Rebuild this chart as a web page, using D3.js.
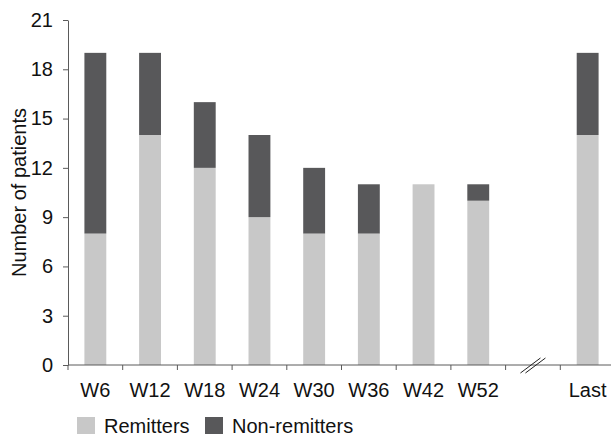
<!DOCTYPE html>
<html>
<head>
<meta charset="utf-8">
<script src="https://cdn.jsdelivr.net/npm/d3@7"></script>
<style>
  body { margin: 0; background: #fff; }
  svg { font-family: "Liberation Sans", Arial, sans-serif; }
</style>
</head>
<body>
<div id="chart"></div>
<script>
// weeks on the x axis, "gap" is the broken part of the axis
const categories = ['W6', 'W12', 'W18', 'W24', 'W30', 'W36', 'W42', 'W52', 'gap', 'Last'];
const remitters = [8, 14, 12, 9, 8, 8, 11, 10, null, 14];
const nonRemitters = [11, 5, 4, 5, 4, 3, 0, 1, null, 5];
const yTicks = [0, 3, 6, 9, 12, 15, 18, 21];

const width = 611, height = 437;
const plotLeft = 68, plotRight = 615, plotTop = 20, plotBottom = 365;
const fontSize = '20px';
const axisColor = '#5a5a5a';
const lightGray = '#c8c8c8', darkGray = '#58585a';

const svg = d3.select('#chart')
    .append('svg')
    .attr('width', width)
    .attr('height', height);

let scaleX = d3.scaleBand().domain(categories).range([plotLeft, plotRight]).padding(0);
let scaleY = d3.scaleLinear().domain([0, 21]).range([plotBottom, plotTop]);

let barW = scaleX.bandwidth() * 0.4;

let data = categories.map((c, i) => ({cat: c, rem: remitters[i], non: nonRemitters[i]}))
                     .filter(d => d.rem !== null);

// remitters at the bottom
svg.selectAll('rect.rem')
    .data(data)
    .enter()
    .append('rect')
    .attr('class', 'rem')
    .attr('x', d => scaleX(d.cat) + (scaleX.bandwidth() - barW) / 2)
    .attr('width', barW)
    .attr('y', d => scaleY(d.rem))
    .attr('height', d => scaleY(0) - scaleY(d.rem))
    .style('fill', lightGray);

// non-remitters stacked on top
svg.selectAll('rect.non')
    .data(data.filter(d => d.non > 0))
    .enter()
    .append('rect')
    .attr('class', 'non')
    .attr('x', d => scaleX(d.cat) + (scaleX.bandwidth() - barW) / 2)
    .attr('width', barW)
    .attr('y', d => scaleY(d.rem + d.non))
    .attr('height', d => scaleY(d.rem) - scaleY(d.rem + d.non))
    .style('fill', darkGray);

// y axis
let yAxis = d3.axisLeft(scaleY).tickValues(yTicks).tickSize(5).tickPadding(10).tickSizeOuter(0);
let yAxisGroup = svg.append('g')
    .attr('class', 'y axis')
    .attr('transform', 'translate(' + plotLeft + ',0)')
    .call(yAxis);

// x axis: labels in the bands, ticks at band edges
let xAxis = d3.axisBottom(scaleX).tickSize(0).tickPadding(17.8)
    .tickFormat(d => d === 'gap' ? '' : d);
let xAxisGroup = svg.append('g')
    .attr('class', 'x axis')
    .attr('transform', 'translate(0,' + plotBottom + ')')
    .call(xAxis);
xAxisGroup.select('.domain').remove();
xAxisGroup.append('line')
    .attr('x1', plotLeft).attr('x2', plotRight)
    .attr('y1', 0).attr('y2', 0)
    .style('stroke', axisColor);
xAxisGroup.selectAll('line.edge')
    .data(categories.concat(['end']))
    .enter()
    .append('line')
    .attr('class', 'edge')
    .attr('x1', d => d === 'end' ? plotRight : scaleX(d))
    .attr('x2', d => d === 'end' ? plotRight : scaleX(d))
    .attr('y1', 0).attr('y2', 5)
    .style('stroke', axisColor);

svg.selectAll('.axis text')
    .style('font-size', fontSize)
    .style('font-family', '"Liberation Sans", Arial, sans-serif')
    .style('fill', '#111');
svg.selectAll('.y.axis path, .y.axis line').style('stroke', axisColor);

// axis break marks
let gx = scaleX('gap') + scaleX.bandwidth() / 2;
[-2.5, 2.5].forEach(off => {
    svg.append('line')
        .attr('x1', gx + off - 10).attr('y1', plotBottom + 8)
        .attr('x2', gx + off + 10).attr('y2', plotBottom - 7)
        .style('stroke', '#222')
        .style('stroke-width', '1px');
});

// y title
svg.append('text')
    .attr('transform', 'translate(26,' + ((plotTop + plotBottom) / 2) + ') rotate(-90)')
    .style('text-anchor', 'middle')
    .style('font-size', fontSize)
    .style('fill', '#111')
    .text('Number of patients');

// legend
const legend = [
    {name: 'Remitters', color: lightGray, x: 77},
    {name: 'Non-remitters', color: darkGray, x: 205}
];
let lg = svg.selectAll('g.legend')
    .data(legend)
    .enter()
    .append('g')
    .attr('class', 'legend')
    .attr('transform', d => 'translate(' + d.x + ',417)');
lg.append('rect')
    .attr('width', 18).attr('height', 17)
    .style('fill', d => d.color);
lg.append('text')
    .attr('x', 27).attr('y', 16)
    .style('font-size', fontSize)
    .style('fill', '#111')
    .text(d => d.name);
</script>
</body>
</html>
